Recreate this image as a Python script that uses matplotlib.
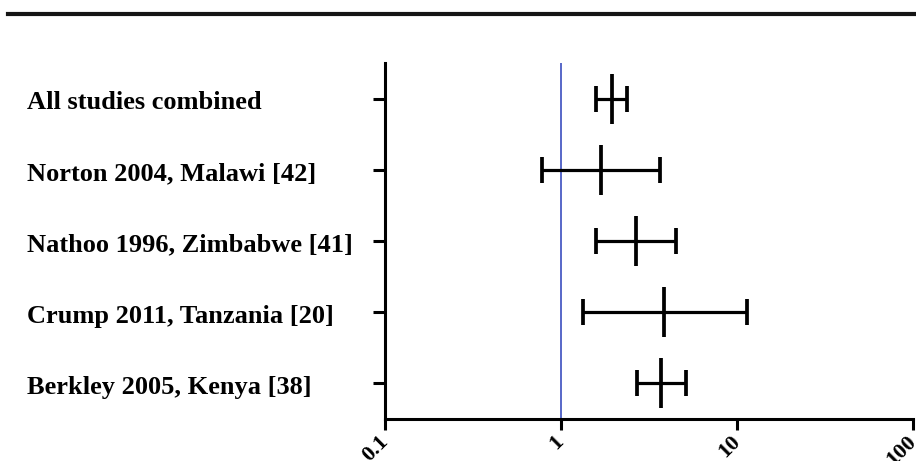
import matplotlib.pyplot as plt
import matplotlib.transforms as mtransforms
import numpy as np

plt.rcParams['font.family'] = ['Liberation Serif', 'DejaVu Serif']
plt.rcParams['font.weight'] = 'bold'

# 研究名称（从上到下）
studies = [
    'All studies combined',
    'Norton 2004, Malawi [42]',
    'Nathoo 1996, Zimbabwe [41]',
    'Crump 2011, Tanzania [20]',
    'Berkley 2005, Kenya [38]',
]
# 点估计及置信区间
estimate = [1.94, 1.69, 2.67, 3.86, 3.70]
ci_low = [1.58, 0.78, 1.58, 1.34, 2.71]
ci_high = [2.36, 3.65, 4.50, 11.4, 5.10]
xticks = [0.1, 1, 10, 100]
xtick_labels = ['0.1', '1', '10', '100']

fig = plt.figure(figsize=(9.16, 4.61), dpi=100)
ax = fig.add_axes([385 / 916, 42 / 461, 528 / 916, 356 / 461])

y_pos = np.arange(len(studies))
est = np.array(estimate)
lo = np.array(ci_low)
hi = np.array(ci_high)

# 参考线 x=1
ax.axvline(1, color='#4a5cc4', lw=1.3, zorder=1)

# 置信区间
ax.errorbar(est, y_pos, xerr=[est - lo, hi - est], fmt='none', ecolor='black',
            elinewidth=2.3, capsize=9.5, capthick=2.7, zorder=3)
# 点估计（竖线）
ax.scatter(est, y_pos, marker='|', s=1250, linewidths=2.7, color='black', zorder=4)

ax.set_xscale('log')
ax.set_xlim(0.1, 100)
ax.set_ylim(len(studies) - 0.5, -0.5)
ax.set_xticks(xticks)
ax.set_xticklabels(xtick_labels, rotation=45, ha='right', va='center',
                   rotation_mode='anchor', fontsize=16, fontweight='bold')
ax.xaxis.set_minor_locator(plt.NullLocator())
ax.set_yticks(y_pos)
ax.set_yticklabels([])

# 刻度标签整体左移，位于刻度线左下方
offset = mtransforms.ScaledTranslation(-8 / 100, 0, fig.dpi_scale_trans)
for lab in ax.get_xticklabels():
    lab.set_transform(lab.get_transform() + offset)

for side in ['top', 'right']:
    ax.spines[side].set_visible(False)
for side in ['left', 'bottom']:
    ax.spines[side].set_linewidth(2.2)
ax.tick_params(axis='x', length=8, width=2.2, pad=6)
ax.tick_params(axis='y', length=9, width=2.2)

# 左侧研究名称（左对齐）
trans = mtransforms.blended_transform_factory(fig.transFigure, ax.transData)
for i, name in enumerate(studies):
    ax.text(27 / 916, i + 0.06, name, transform=trans, ha='left', va='center',
            fontsize=19, fontweight='bold', clip_on=False)

# 顶部粗横线
fig.add_artist(plt.Line2D([8 / 916, 1], [1 - 14 / 461, 1 - 14 / 461],
                          transform=fig.transFigure, color='#151515', lw=3))

fig.savefig('out.png', dpi=100)
